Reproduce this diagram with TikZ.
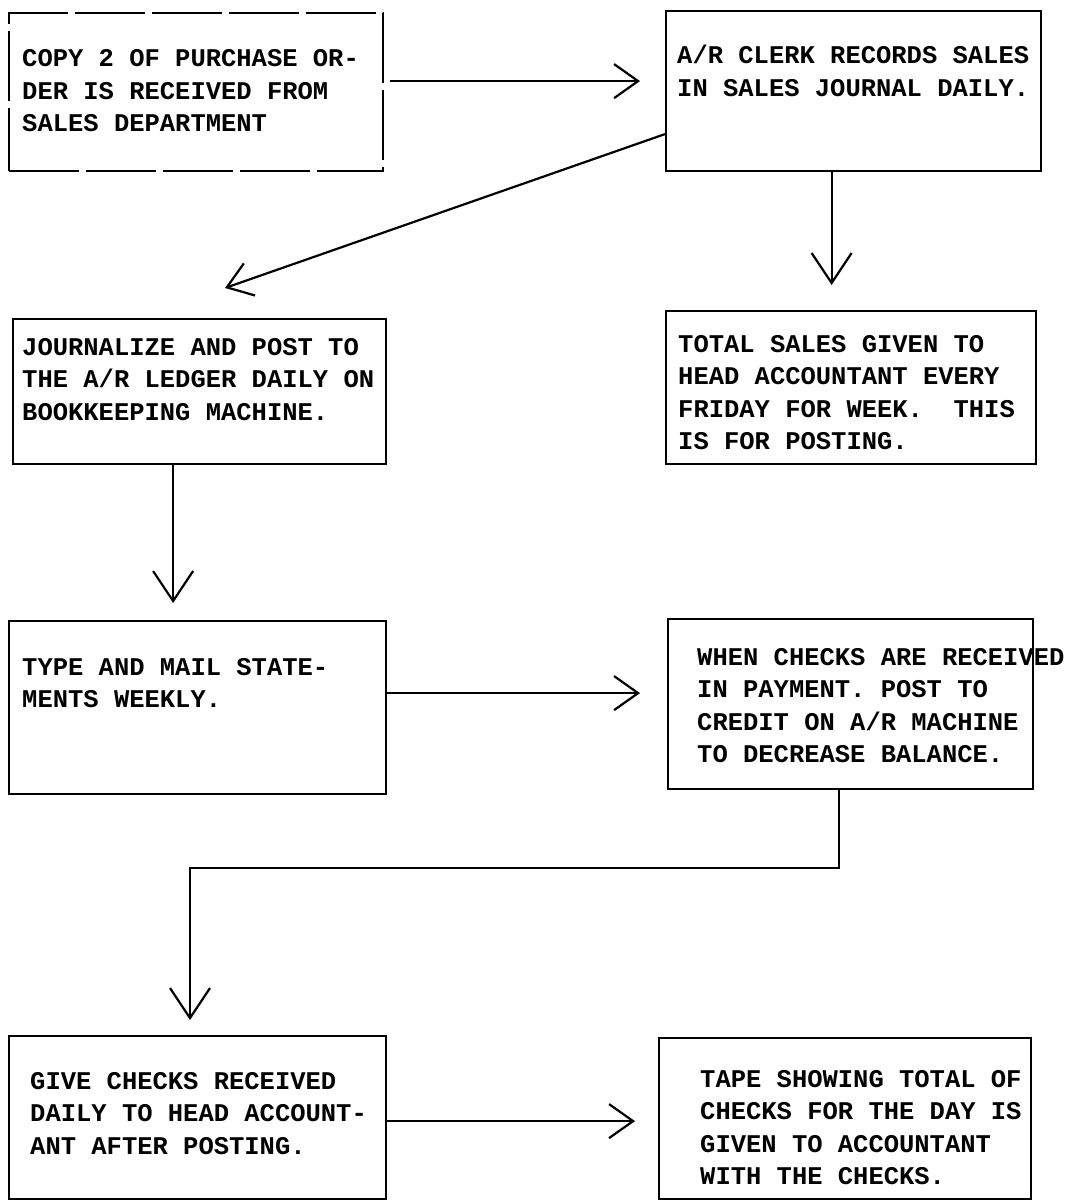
\documentclass[tikz,border=0pt]{standalone}
\usepackage{fontspec}
\setmonofont{Liberation Mono}
\usetikzlibrary{arrows.meta,calc}
\begin{document}
\begin{tikzpicture}[x=1pt,y=-1pt,
  box/.style={draw, line width=2.2pt, inner sep=0pt, anchor=north west},
  txt/.style={anchor=base west, inner sep=0pt, align=left,
    font=\ttfamily\bfseries\fontsize{25.5}{32.5}\selectfont},
  flow/.style={line width=2.2pt,
    -{Straight Barb[length=24pt,width=34pt,line width=2.2pt]}},
  downflow/.style={line width=2.2pt,
    -{Straight Barb[length=30pt,width=40pt,line width=2.2pt]}}]
\useasboundingbox (0,0) rectangle (1068,1201);

% process boxes
\node[box, dash pattern=on 70pt off 7pt, minimum width=374pt, minimum height=158pt] (b1) at (8,12) {};
\node[box, minimum width=375pt, minimum height=160pt] (b2) at (665,10) {};
\node[box, minimum width=373pt, minimum height=145pt] (b3) at (12,318) {};
\node[box, minimum width=370pt, minimum height=153pt] (b4) at (665,310) {};
\node[box, minimum width=377pt, minimum height=173pt] (b5) at (8,620) {};
\node[box, minimum width=365pt, minimum height=170pt] (b6) at (667,618) {};
\node[box, minimum width=377pt, minimum height=163pt] (b7) at (8,1035) {};
\node[box, minimum width=372pt, minimum height=161pt] (b8) at (658,1037) {};

% box texts (each placed at the baseline of its last line)
\node[txt] (t1) at (22,132) {COPY 2 OF PURCHASE OR-\\DER IS RECEIVED FROM\\SALES DEPARTMENT};
\node[txt] (t2) at (677,96.5) {A/R CLERK RECORDS SALES\\IN SALES JOURNAL DAILY.};
\node[txt] (t3) at (22,420) {JOURNALIZE AND POST TO\\THE A/R LEDGER DAILY ON\\BOOKKEEPING MACHINE.};
\node[txt] (t4) at (678,449.5) {TOTAL SALES GIVEN TO\\HEAD ACCOUNTANT EVERY\\FRIDAY FOR WEEK.~ THIS\\IS FOR POSTING.};
\node[txt] (t5) at (22,707.5) {TYPE AND MAIL STATE-\\MENTS WEEKLY.};
\node[txt] (t6) at (697,762.5) {WHEN CHECKS ARE RECEIVED\\IN PAYMENT. POST TO\\CREDIT ON A/R MACHINE\\TO DECREASE BALANCE.};
\node[txt] (t7) at (30,1154) {GIVE CHECKS RECEIVED\\DAILY TO HEAD ACCOUNT-\\ANT AFTER POSTING.};
\node[txt] (t8) at (700,1184.5) {TAPE SHOWING TOTAL OF\\CHECKS FOR THE DAY IS\\GIVEN TO ACCOUNTANT\\WITH THE CHECKS.};

% connectors
\draw[flow, shorten <=6pt, shorten >=25pt]
  ([yshift=11pt]b1.east) -- ([yshift=11pt]b1.east -| b2.west);
\draw[flow]
  ([yshift=-43pt]b2.west) -- ($(b3.north west)+(213,-30)$);
\draw[downflow, shorten >=25pt]
  ([xshift=-22pt]b2.south) -- ([xshift=-22pt]b2.south |- b4.north);
\draw[downflow, shorten >=17pt]
  ([xshift=-26.5pt]b3.south) -- ([xshift=-26.5pt]b3.south |- b5.north);
\draw[flow, shorten >=27pt]
  ([yshift=14.5pt]b5.east) -- ([yshift=14.5pt]b5.east -| b6.west);
\coordinate (turn) at (190,868);
\draw[downflow, shorten >=15pt]
  ([xshift=-11.5pt]b6.south) |- (turn) -- (turn |- b7.north);
\draw[flow, shorten >=23pt]
  ([yshift=-3.5pt]b7.east) -- ([yshift=-3.5pt]b7.east -| b8.west);
\end{tikzpicture}
\end{document}
